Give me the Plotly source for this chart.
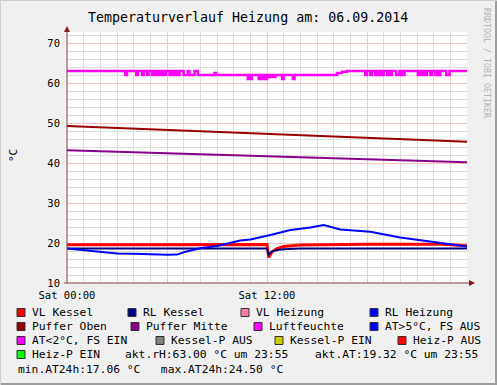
import plotly.graph_objects as go

# ---------------- data (hours since Sat 00:00) ----------------
vl_kessel_t = [0, 6, 12.0, 12.1, 12.3, 12.6, 13.0, 14.0, 18, 22.5, 24]
vl_kessel_v = [19.55, 19.6, 19.6, 16.4, 17.8, 18.6, 19.1, 19.5, 19.7, 19.7, 19.3]

rl_kessel_t = [0, 6, 12.0, 12.1, 12.3, 12.7, 13.2, 14, 24]
rl_kessel_v = [18.6, 18.6, 18.6, 17.2, 17.9, 18.3, 18.5, 18.6, 18.6]

rl_heiz_t = [0, 1, 2, 3, 4, 5, 6, 6.6, 7.1, 8, 9, 10.4, 11, 12.2, 13.4, 14.6,
             15.4, 16.4, 17.6, 18.2, 20, 21.2, 22.4, 23.6, 24]
rl_heiz_v = [18.6, 18.2, 17.8, 17.4, 17.3, 17.1, 17.06, 17.1, 17.8, 18.7, 19.25,
             20.6, 20.9, 22.0, 23.25, 23.9, 24.5, 23.4, 23.1, 22.8, 21.4, 20.75,
             20.1, 19.3, 19.1]

puffer_oben_t = [0, 24]
puffer_oben_v = [49.25, 45.3]

puffer_mitte_t = [0, 24]
puffer_mitte_v = [43.2, 40.2]

# Luftfeuchte: change points (step line)
lf_t = [0, 3.5, 3.6, 4.15, 4.25, 4.5, 4.6, 4.8, 4.9, 5.1, 5.2, 5.35, 5.45, 5.6, 5.7,
        5.85, 5.95, 6.15, 6.25, 6.4, 6.5, 6.65, 6.75, 7.0, 7.25, 7.35, 7.65, 7.85,
        8.85, 8.95, 10.85, 10.95, 11.0, 11.1, 11.5, 11.6, 11.7, 11.8, 11.9, 12.0,
        12.15, 12.25, 12.4, 12.5, 12.9, 13.0, 13.55, 13.65, 16.2, 16.5, 16.8,
        17.9, 18.0, 18.2, 18.3, 18.5, 18.6, 18.7, 18.8, 18.9, 19.0, 19.2, 19.3,
        19.4, 19.5, 19.75, 19.95, 20.1, 20.25, 21.05, 21.15, 21.3, 21.4, 21.5,
        21.6, 21.8, 21.9, 22.1, 22.2, 22.3, 22.4, 22.75, 22.95, 24]
lf_v = [63, 62, 63, 62, 63, 62, 63, 62, 63, 62, 63, 62, 63, 62, 63,
        62, 63, 62, 63, 62, 63, 62, 63, 62, 63, 62, 63, 62,
        62.5, 62, 61, 62, 61, 62, 61, 62, 61, 62, 61, 62,
        61.5, 62, 61.5, 62, 61, 62, 61, 62, 62.5, 62.8, 63,
        62, 63, 62, 63, 62, 63, 62, 63, 62, 63, 62, 63,
        62, 63, 62, 63, 62, 63, 62, 63, 62, 63, 62,
        63, 62, 63, 62, 63, 62, 63, 62, 63, 63]

x_tickvals = [0, 6, 12, 18]
x_ticktext = ["Sat 00:00", "", "Sat 12:00", ""]
y_tickvals = [10, 20, 30, 40, 50, 60, 70]

legend_rows = [
    [("VL Kessel", "#FF0000", 17), ("RL Kessel", "#000080", 128),
     ("VL Heizung", "#FF7F9F", 241), ("RL Heizung", "#0000FF", 370)],
    [("Puffer Oben", "#990000", 17), ("Puffer Mitte", "#880088", 131),
     ("Luftfeuchte", "#FF00FF", 254), ("AT>5°C, FS AUS", "#0000FF", 370)],
    [("AT<2°C, FS EIN", "#FF00FF", 17), ("Kessel-P AUS", "#808080", 156),
     ("Kessel-P EIN", "#CCCC00", 275), ("Heiz-P AUS", "#FF0000", 398)],
    [("Heiz-P EIN", "#00FF00", 17)],
]
info_row4 = [("akt.rH:63.00 °C um 23:55", 123), ("akt.AT:19.32 °C um 23:55", 313)]
info_row5 = "min.AT24h:17.06 °C   max.AT24h:24.50 °C"
row_y = [312.5, 326.5, 340.5, 354.5, 369]

# ---------------- geometry helpers ----------------
L, R, T, B = 67, 467, 32, 283
W, H = R - L, B - T
def px(x):
    return (x - L) / W
def py(y):
    return (B - y) / H

FONT = "DejaVu Sans Mono"
fig = go.Figure()

fig.add_trace(go.Scatter(x=vl_kessel_t, y=vl_kessel_v, mode="lines",
                         line=dict(color="#FF0000", width=3), hoverinfo="skip"))
fig.add_trace(go.Scatter(x=rl_kessel_t, y=rl_kessel_v, mode="lines",
                         line=dict(color="#000080", width=2), hoverinfo="skip"))
fig.add_trace(go.Scatter(x=rl_heiz_t, y=rl_heiz_v, mode="lines",
                         line=dict(color="#0000FF", width=2), hoverinfo="skip"))
fig.add_trace(go.Scatter(x=puffer_oben_t, y=puffer_oben_v, mode="lines",
                         line=dict(color="#990000", width=2), hoverinfo="skip"))
fig.add_trace(go.Scatter(x=puffer_mitte_t, y=puffer_mitte_v, mode="lines",
                         line=dict(color="#880088", width=2), hoverinfo="skip"))
fig.add_trace(go.Scatter(x=lf_t, y=lf_v, mode="lines", line_shape="hv",
                         line=dict(color="#FF00FF", width=2.5), hoverinfo="skip"))

fig.update_layout(
    width=497, height=385,
    margin=dict(l=L, r=497 - R, t=T, b=385 - B, autoexpand=False),
    paper_bgcolor="#F0F0F0", plot_bgcolor="#FFFFFF",
    showlegend=False,
    font=dict(family=FONT, size=10, color="#000000"),
)
fig.update_xaxes(range=[0, 24], tickmode="array", tickvals=x_tickvals, ticktext=x_ticktext,
                 showgrid=True, gridcolor="#F8C4C4", gridwidth=1, automargin=False,
                 minor=dict(dtick=1, showgrid=True, gridcolor="#DEDEDE", ticks=""),
                 ticks="", showline=False, zeroline=False,
                 tickfont=dict(family=FONT, size=10.5), ticklabelstandoff=4)
fig.update_yaxes(range=[10, 72.75], tickmode="array", tickvals=y_tickvals,
                 showgrid=True, gridcolor="#F8C4C4", gridwidth=1, automargin=False,
                 minor=dict(dtick=2, showgrid=True, gridcolor="#DEDEDE", ticks=""),
                 ticks="", showline=False, zeroline=False,
                 tickfont=dict(family=FONT, size=10.5), ticklabelstandoff=6)

shapes = []
AX = "#7F3F3F"
# axes
shapes.append(dict(type="line", xref="paper", yref="paper", x0=px(67), x1=px(67),
                   y0=py(283), y1=py(31), line=dict(color=AX, width=1)))
shapes.append(dict(type="line", xref="paper", yref="paper", x0=px(64), x1=px(470),
                   y0=py(283), y1=py(283), line=dict(color=AX, width=1)))
# arrowheads
shapes.append(dict(type="path", xref="paper", yref="paper",
                   path=f"M {px(64)} {py(32)} L {px(70)} {py(32)} L {px(67)} {py(26)} Z",
                   fillcolor="#8B1A1A", line=dict(width=0)))
shapes.append(dict(type="path", xref="paper", yref="paper",
                   path=f"M {px(469)} {py(280)} L {px(469)} {py(286)} L {px(475)} {py(283)} Z",
                   fillcolor="#8B1A1A", line=dict(width=0)))
# frame
shapes.append(dict(type="rect", xref="paper", yref="paper", x0=px(495), x1=px(497),
                   y0=py(0), y1=py(385), fillcolor="#9E9E9E", line=dict(width=0)))
shapes.append(dict(type="rect", xref="paper", yref="paper", x0=px(0), x1=px(497),
                   y0=py(385), y1=py(383), fillcolor="#9E9E9E", line=dict(width=0)))
shapes.append(dict(type="rect", xref="paper", yref="paper", x0=px(0), x1=px(497),
                   y0=py(0), y1=py(1), fillcolor="#CFCFCF", line=dict(width=0)))
shapes.append(dict(type="rect", xref="paper", yref="paper", x0=px(0), x1=px(1),
                   y0=py(0), y1=py(385), fillcolor="#CFCFCF", line=dict(width=0)))

annotations = []
annotations.append(dict(text="Temperaturverlauf Heizung am: 06.09.2014", xref="paper", yref="paper",
                        x=px(248), y=py(17), xanchor="center", yanchor="middle", showarrow=False,
                        font=dict(family=FONT, size=13.3, color="#000000")))
annotations.append(dict(text="°C", xref="paper", yref="paper", x=px(13), y=py(156),
                        xanchor="center", yanchor="middle", showarrow=False, textangle=-90,
                        font=dict(family=FONT, size=11, color="#000000")))
annotations.append(dict(text="RRDTOOL / TOBI OETIKER", xref="paper", yref="paper", x=px(487), y=py(63),
                        xanchor="center", yanchor="middle", showarrow=False, textangle=90,
                        font=dict(family=FONT, size=8.3, color="#B4B4B4")))

LF = 11.3
for r, row in enumerate(legend_rows):
    yc = row_y[r]
    for label, color, sx in row:
        shapes.append(dict(type="rect", xref="paper", yref="paper",
                           x0=px(sx), x1=px(sx + 8), y0=py(yc - 4), y1=py(yc + 4),
                           fillcolor=color, line=dict(color="#303030", width=1)))
        annotations.append(dict(text=label, xref="paper", yref="paper", x=px(sx + 13), y=py(yc),
                                xanchor="left", yanchor="middle", showarrow=False,
                                font=dict(family=FONT, size=LF, color="#000000")))
for text, sx in info_row4:
    annotations.append(dict(text=text, xref="paper", yref="paper", x=px(sx), y=py(row_y[3]),
                            xanchor="left", yanchor="middle", showarrow=False,
                            font=dict(family=FONT, size=LF, color="#000000")))
annotations.append(dict(text=info_row5.replace(" ", "&nbsp;"), xref="paper", yref="paper", x=px(16), y=py(row_y[4]),
                        xanchor="left", yanchor="middle", showarrow=False,
                        font=dict(family=FONT, size=LF, color="#000000")))

fig.update_layout(shapes=shapes, annotations=annotations)
fig.write_html("out.html", config={"displayModeBar": False},
               post_script="document.body.style.margin='0';document.body.style.padding='0';")
